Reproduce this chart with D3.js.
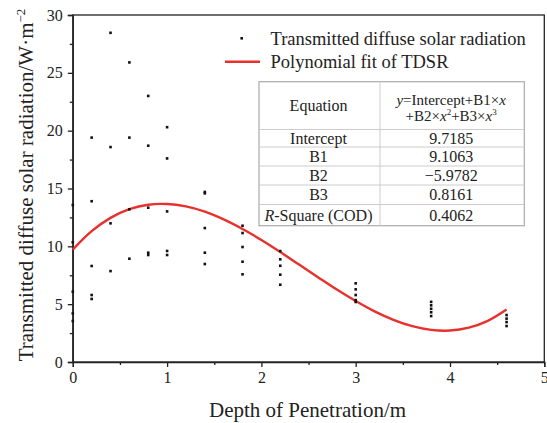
<!DOCTYPE html>
<html><head><meta charset="utf-8">
<script src="https://cdn.jsdelivr.net/npm/d3@7"></script>
<style>
body{margin:0;background:#fff;}
svg, svg text{font-family:"Liberation Serif","Times New Roman","DejaVu Serif",serif !important;}
</style></head>
<body><svg id="c" width="547" height="423"></svg>
<script>
// ---- data ----
const depths = [0, 0.2, 0.4, 0.6, 0.8, 1.0, 1.4, 1.8, 2.2, 3.0, 3.8, 4.6];
const tdsr = [
  [13.57, 10.35, 6.08, 4.2, 3.54],
  [19.4, 13.9, 8.3, 5.79, 5.45],
  [28.46, 18.58, 11.99, 7.86],
  [25.9, 19.4, 13.2, 8.93],
  [23.0, 18.7, 13.34, 9.45, 9.25],
  [20.3, 17.6, 13.02, 9.6, 9.25],
  [14.7, 14.58, 11.58, 9.45, 8.47],
  [11.78, 11.15, 9.94, 8.67, 7.58],
  [9.59, 8.88, 8.32, 7.55, 6.68],
  [6.8, 6.28, 5.79, 5.35, 5.19],
  [5.2, 4.9, 4.6, 4.3, 3.97],
  [4.06, 3.75, 3.45, 3.11]
];
const fitX = [0,0.2,0.4,0.6,0.8,1.0,1.2,1.4,1.6,1.8,2.0,2.2,2.4,2.6,2.8,3.0,3.2,3.4,3.6,3.8,4.0,4.2,4.4,4.6];
const fitY = [9.72,11.31,12.46,13.21,13.60,13.66,13.45,13.00,12.33,11.50,10.55,9.51,8.42,7.33,6.26,5.27,4.38,3.65,3.10,2.78,2.72,2.97,3.56,4.54];
const xTicks = [0,1,2,3,4,5];
const yTicks = [0,5,10,15,20,25,30];
const legendLabels = ["Transmitted diffuse solar radiation", "Polynomial fit of TDSR"];
const tableRows = [["Intercept","9.7185"],["B1","9.1063"],["B2","\u22125.9782"],["B3","0.8161"],["R-Square (COD)","0.4062"]];

// ---- drawing ----
const FONT = "'Liberation Serif','Times New Roman','DejaVu Serif',serif";
const svg = d3.select("#c").attr("font-family",FONT);
const x = d3.scaleLinear().domain([0,5]).range([72.8,544.3]);
const y = d3.scaleLinear().domain([0,30]).range([362,15]);
const red = "#e8302c";
const ink = "#222";

// frame
svg.append("rect").attr("x",x(0)).attr("y",y(30)).attr("width",x(5)-x(0)).attr("height",y(0)-y(30))
  .attr("fill","none").attr("stroke",ink).attr("stroke-width",1.3);

// axes
const xAxis = d3.axisBottom(x).tickValues(xTicks).tickFormat(d3.format("d")).tickSize(5).tickPadding(5);
const gx = svg.append("g").attr("transform",`translate(0,${y(0)})`).call(xAxis).attr("font-family",FONT);
gx.selectAll(".tick text").attr("font-size",16).attr("fill",ink);
svg.append("g").attr("transform",`translate(0,${y(0)})`)
  .call(d3.axisBottom(x).tickValues([0.5,1.5,2.5,3.5,4.5]).tickSize(3).tickFormat(""))
  .call(g=>g.select(".domain").remove());

const yAxis = d3.axisLeft(y).tickValues(yTicks).tickFormat(d3.format("d")).tickSize(5).tickPadding(5);
const gy = svg.append("g").attr("transform",`translate(${x(0)},0)`).call(yAxis).attr("font-family",FONT);
gy.selectAll(".tick text").attr("font-size",16).attr("fill",ink);
svg.append("g").attr("transform",`translate(${x(0)},0)`)
  .call(d3.axisLeft(y).tickValues([2.5,7.5,12.5,17.5,22.5,27.5]).tickSize(3).tickFormat(""))
  .call(g=>g.select(".domain").remove());
svg.selectAll(".domain, .tick line").attr("stroke",ink).attr("stroke-width",1.3);

// axis titles
svg.append("text").attr("x",(x(0)+x(5))/2-1).attr("y",417).attr("text-anchor","middle")
  .attr("font-size",21).attr("fill",ink).text("Depth of Penetration/m");
const yt = svg.append("text").attr("transform","translate(33,185) rotate(-90)").attr("text-anchor","middle")
  .attr("font-size",21).attr("fill",ink);
yt.append("tspan").text("Transmitted diffuse solar radiation/W\u00b7m");
yt.append("tspan").attr("font-size",13).attr("dy",-8).text("\u22122");

// fit curve
const line = d3.line().x((d,i)=>x(fitX[i])).y(d=>y(d)).curve(d3.curveCatmullRom);
svg.append("path").datum(fitY).attr("d",line).attr("fill","none").attr("stroke",red).attr("stroke-width",2.4);

// scatter points
const pts = [];
depths.forEach((dx,i)=>tdsr[i].forEach(v=>pts.push([dx,v])));
svg.append("g").selectAll("rect").data(pts).join("rect")
  .attr("x",d=>x(d[0])-1.3).attr("y",d=>y(d[1])-1.3).attr("width",2.6).attr("height",2.6).attr("fill","#111");

// legend
svg.append("rect").attr("x",240.4).attr("y",37).attr("width",2.6).attr("height",2.6).attr("fill","#111");
svg.append("text").attr("x",270.5).attr("y",44.5).attr("font-size",18.5).attr("fill",ink).text(legendLabels[0]);
svg.append("line").attr("x1",225).attr("x2",260).attr("y1",61.7).attr("y2",61.7).attr("stroke",red).attr("stroke-width",2.4);
svg.append("text").attr("x",270.5).attr("y",68).attr("font-size",18.5).attr("fill",ink).text(legendLabels[1]);

// table
const tx0=259, tx1=524.3, tdiv=380, ty0=81.7, ty1=225.7;
const rowLines=[129.5,147,166,185,204.5];
const tb = svg.append("g");
tb.append("rect").attr("x",tx0).attr("y",ty0).attr("width",tx1-tx0).attr("height",ty1-ty0)
  .attr("fill","#fff").attr("stroke","#aaa").attr("stroke-width",1.2);
tb.append("line").attr("x1",tdiv).attr("x2",tdiv).attr("y1",ty0).attr("y2",ty1).attr("stroke","#ccc");
rowLines.forEach(ry=>tb.append("line").attr("x1",tx0).attr("x2",tx1).attr("y1",ry).attr("y2",ry).attr("stroke","#ccc"));
const c1=(tx0+tdiv)/2-1, c2=(tdiv+tx1)/2-1;
tb.append("text").attr("x",c1).attr("y",111).attr("text-anchor","middle").attr("font-size",16).attr("fill",ink).text("Equation");
const e1 = tb.append("text").attr("x",c2).attr("y",104.5).attr("text-anchor","middle").attr("font-size",15).attr("fill",ink);
e1.append("tspan").attr("font-style","italic").text("y");
e1.append("tspan").text("=Intercept+B1\u00d7");
e1.append("tspan").attr("font-style","italic").text("x");
const e2 = tb.append("text").attr("x",c2).attr("y",121).attr("text-anchor","middle").attr("font-size",15).attr("fill",ink);
e2.append("tspan").text("+B2\u00d7");
e2.append("tspan").attr("font-style","italic").text("x");
e2.append("tspan").attr("font-size",9).attr("dy",-6).text("2");
e2.append("tspan").attr("dy",6).text("+B3\u00d7");
e2.append("tspan").attr("font-style","italic").text("x");
e2.append("tspan").attr("font-size",9).attr("dy",-6).text("3");
const rowTops=[129.5,147,166,185,204.5,225.7];
tableRows.forEach((r,i)=>{
  const cy=(rowTops[i]+rowTops[i+1])/2+5.5;
  const t=tb.append("text").attr("x",c1).attr("y",cy).attr("text-anchor","middle").attr("font-size",16).attr("fill",ink);
  if(r[0].startsWith("R-")){t.append("tspan").attr("font-style","italic").text("R");t.append("tspan").text(r[0].slice(1));}
  else t.text(r[0]);
  tb.append("text").attr("x",c2).attr("y",cy).attr("text-anchor","middle").attr("font-size",16).attr("fill",ink).text(r[1]);
});
</script></body></html>
